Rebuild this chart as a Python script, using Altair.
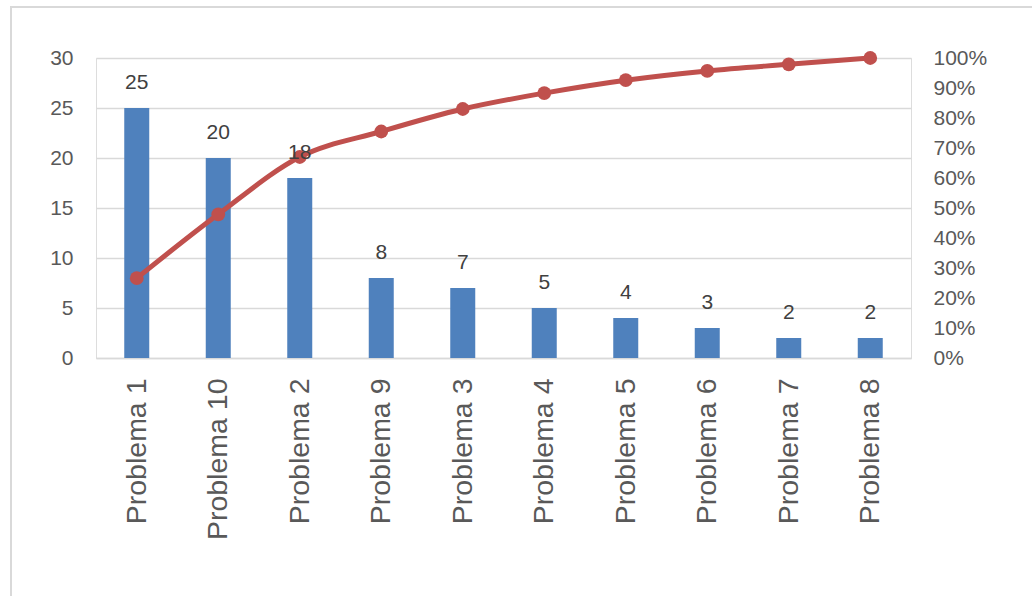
import altair as alt
import pandas as pd

categories = ["Problema 1", "Problema 10", "Problema 2", "Problema 9", "Problema 3",
              "Problema 4", "Problema 5", "Problema 6", "Problema 7", "Problema 8"]
counts = [25, 20, 18, 8, 7, 5, 4, 3, 2, 2]
cumulative_pct = [0.266, 0.479, 0.670, 0.755, 0.830, 0.883, 0.926, 0.957, 0.979, 1.000]

df = pd.DataFrame({"cat": categories, "count": counts, "cum": cumulative_pct})

FONT = "Liberation Sans"
W, H = 815, 300
LEFT, TOP = 96, 58

x_enc = alt.X("cat:N", sort=categories,
              scale=alt.Scale(paddingInner=0, paddingOuter=0),
              axis=alt.Axis(title=None, labelAngle=-90, labelFontSize=28.5, labelColor="#595959",
                            labelFont=FONT, labelPadding=20, ticks=False,
                            domainColor="#D9D9D9", domainWidth=1.5, labelLimit=300))
x_plain = alt.X("cat:N", sort=categories)

count_scale = alt.Scale(domain=[0, 30], nice=False)
pct_scale = alt.Scale(domain=[0, 1], nice=False)

base = alt.Chart(df)

frame = base.mark_rect(fill=None, stroke="#D9D9D9", strokeWidth=1.5).encode(
    x=alt.value(11 - LEFT), x2=alt.value(1040 - LEFT),
    y=alt.value(7 - TOP), y2=alt.value(620 - TOP))

bars = base.mark_bar(size=25, color="#4F81BD").encode(
    x=x_enc,
    y=alt.Y("count:Q", scale=count_scale,
            axis=alt.Axis(title=None, values=[0, 5, 10, 15, 20, 25, 30], grid=True,
                          gridColor="#D9D9D9", gridWidth=1.5, domain=False, ticks=False,
                          labelFontSize=21, labelColor="#595959", labelFont=FONT,
                          labelPadding=23)))

line = base.mark_line(color="#C0504D", strokeWidth=5, interpolate="monotone").encode(
    x=x_plain,
    y=alt.Y("cum:Q", scale=pct_scale,
            axis=alt.Axis(title=None, orient="right", values=[i / 10 for i in range(11)],
                          format=".0%", grid=False, domain=False, ticks=False,
                          labelFontSize=21, labelColor="#595959", labelFont=FONT,
                          labelPadding=22)))

points = base.mark_point(filled=True, color="#C0504D", size=190, opacity=1).encode(
    x=x_plain,
    y=alt.Y("cum:Q", scale=pct_scale, axis=None))

labels = base.mark_text(baseline="bottom", dy=-15, fontSize=21, color="#404040", font=FONT).encode(
    x=x_plain,
    y=alt.Y("count:Q", scale=count_scale, axis=None),
    text="count:Q")

chart = alt.layer(frame, bars, line, points, labels).resolve_scale(y="independent").properties(
    width=W, height=H,
    autosize=alt.AutoSizeParams(type="none"),
    padding={"left": LEFT, "top": TOP, "right": 1032 - LEFT - W, "bottom": 596 - TOP - H},
).configure_view(strokeWidth=0, stroke="transparent").configure(background="white")

chart.save("out.html", embed_options={"renderer": "svg", "actions": False})
